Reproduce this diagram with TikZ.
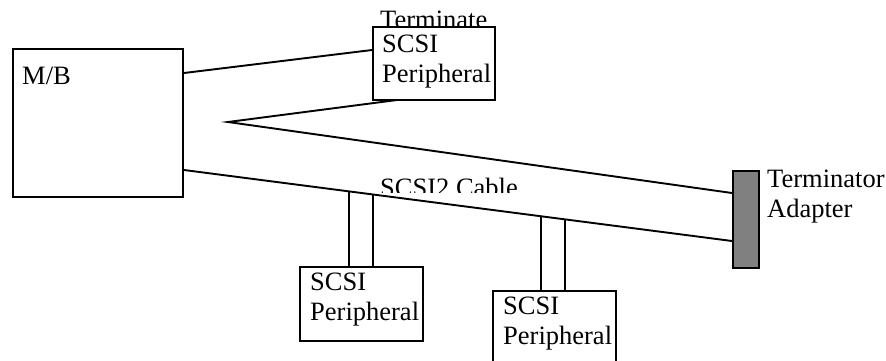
\documentclass[tikz,border=0pt]{standalone}
\usepackage{fontspec}
\setmainfont{Liberation Serif}
\usetikzlibrary{calc}
\begin{document}
\begin{tikzpicture}[x=1pt,y=-1pt,
  box/.style={draw=black,line width=2pt,fill=white,anchor=north west,inner sep=0pt},
  lbl/.style={anchor=base west,inner sep=0pt,font=\fontsize{26.5}{30}\selectfont},
  wire/.style={line width=1.9pt,line cap=butt}]
\useasboundingbox (0,0) rectangle (886,360);
\clip (0,0) rectangle (886,360);

% label partly hidden behind the upper peripheral
\node[lbl] (termtxt) at (380,28) {Terminate};

% boxes
\node[box,minimum width=170pt,minimum height=148pt] (mb) at (12,48) {};
\node[box,minimum width=122pt,minimum height=73pt] (top) at (372,26) {};
\node[box,minimum width=123pt,minimum height=74pt] (p1) at (299,266) {};
\node[box,minimum width=123pt,minimum height=74pt] (p2) at (492,290) {};
\node[box,fill={rgb,255:red,128;green,128;blue,128},minimum width=26pt,minimum height=97pt] (term) at (732,170) {};

% box labels
\node[lbl] (mbtxt) at ($(mb.north west)+(10,36)$) {M/B};
\node[lbl] (toptxt1) at ($(top.north west)+(10,26)$) {SCSI};
\node[lbl] (toptxt2) at ($(top.north west)+(10,56)$) {Peripheral};
\node[lbl] (p1txt1) at ($(p1.north west)+(11,24)$) {SCSI};
\node[lbl] (p1txt2) at ($(p1.north west)+(11,54)$) {Peripheral};
\node[lbl] (p2txt1) at ($(p2.north west)+(11,24)$) {SCSI};
\node[lbl] (p2txt2) at ($(p2.north west)+(11,54)$) {Peripheral};
\node[lbl] (termtxt1) at ($(term.north east)+(7,17)$) {Terminator};
\node[lbl] (termtxt2) at ($(term.north east)+(7,47)$) {Adapter};

% cable label, its lower part cut off
\begin{scope}
  \clip (370,170) rectangle (530,192);
  \node[lbl] (cabletxt) at (380,196) {SCSI2 Cable};
\end{scope}

% connection points
\coordinate (mbA) at ($(mb.north east)+(0,25)$);
\coordinate (mbB) at ($(mb.north east)+(0,122)$);
\coordinate (topA) at ($(top.north west)+(0,24)$);
\coordinate (topB) at ($(top.south west)+(25,-1)$);
\coordinate (bend) at (228,122);
\coordinate (termA) at ($(term.north west)+(0,23)$);
\coordinate (termB) at ($(term.north west)+(0,71)$);

% wiring
\draw[wire] (mbA) -- (topA);
\draw[wire] (topB) -- (bend) -- (termA);
\draw[wire] (mbB) -- (termB);

% stubs from the cable down to the peripherals
\foreach \t/\b in {0.3018/p1, 0.3455/p1, 0.6509/p2, 0.6945/p2} {
  \coordinate (tap) at ($(mbB)!\t!(termB)$);
  \draw[wire] (tap) -- (tap |- \b.north);
}
\end{tikzpicture}
\end{document}
